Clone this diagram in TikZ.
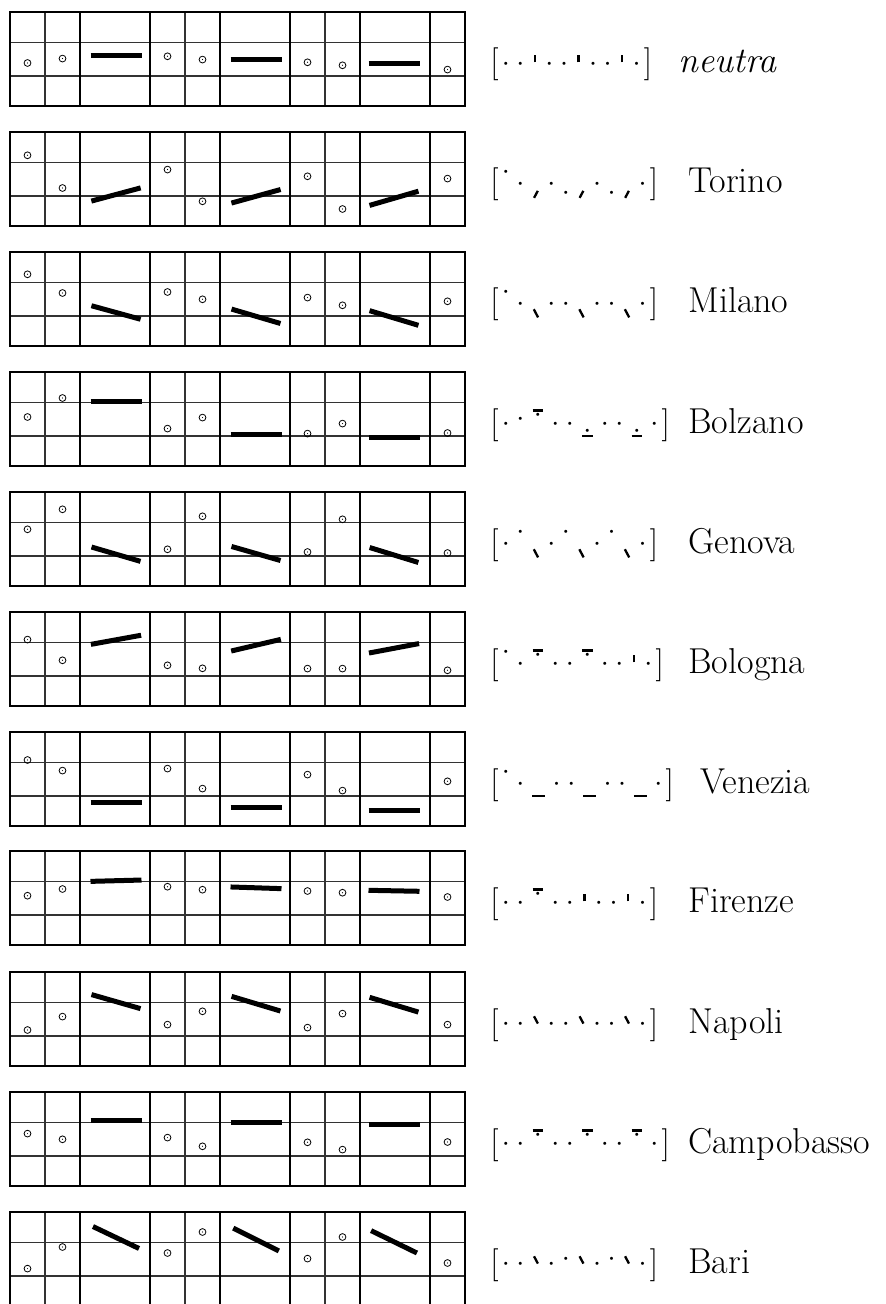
\documentclass[tikz,border=0pt]{standalone}
\usepackage{fontspec}
\usepackage{graphicx}

% syllables in the bracket transcription: dots at four heights
\newcommand{\tdot}[1]{\raisebox{#1}{\scalebox{0.42}{\textbullet}}}
\newcommand{\sylM}{\makebox[0.44em]{\tdot{0.18em}}}
\newcommand{\sylR}{\makebox[0.44em]{\tdot{0.31em}}}
\newcommand{\sylH}{\makebox[0.44em]{\tdot{0.54em}}}
\newcommand{\sylL}{\makebox[0.44em]{\tdot{-0.12em}}}
% stress marks
\newcommand{\accT}{\makebox[0.44em]{\rule[0.32em]{0.07em}{0.23em}}}
\newcommand{\accS}{\makebox[0.5em]{\raisebox{-0.13em}{\rotatebox{-28}{\rule{0.07em}{0.24em}}}}}
\newcommand{\accB}{\makebox[0.5em]{\raisebox{-0.15em}{\rotatebox{28}{\rule{0.07em}{0.28em}}}}}
\newcommand{\accG}{\makebox[0.5em]{\raisebox{0.27em}{\rotatebox{28}{\rule{0.07em}{0.25em}}}}}
\newcommand{\accO}{\makebox[0.62em]{\makebox[0.32em]{\rlap{\rule[0.65em]{0.32em}{0.065em}}\hfill\tdot{0.45em}\hfill}}}
\newcommand{\accU}{\makebox[0.62em]{\makebox[0.32em]{\rlap{\rule[-0.12em]{0.32em}{0.065em}}\hfill\tdot{-0.05em}\hfill}}}
\newcommand{\accW}{\makebox[0.66em]{\rule[-0.12em]{0.38em}{0.065em}}}

% one staff: three bands, columns 1 1 2 1 1 2 1 1 2 1
\newcommand{\staffgrid}{%
  \draw[gridline] (10,30.5) -- (465,30.5) (10,64) -- (465,64);
  \foreach \x in {45,185,325} \draw[gridline] (\x,0) -- (\x,94);
  \foreach \x in {80,150,220,290,360,430} \draw[staffframe] (\x,0) -- (\x,94);
  \draw[staffframe] (10,0) rectangle (465,94);
}
% unstressed syllables (7 heights)
\newcommand{\syls}[1]{%
  \foreach \y [count=\i from 0] in {#1} {
    \pgfmathsetmacro{\cx}{{27.5,62.5,167.5,202.5,307.5,342.5,447.5}[\i]}
    \draw[syl] (\cx,\y) circle (1.7pt);
    \fill (\cx,\y) circle (0.3pt);
  }}
% stressed syllables (height/angle)
\newcommand{\accs}[1]{%
  \foreach \y/\a [count=\i from 0] in {#1} {
    \pgfmathsetmacro{\cx}{{116,256,394}[\i]}
    \draw[accbar] (\cx,\y) ++(180+\a:25.5) -- ++(\a:51);
  }}

\begin{document}
\begin{tikzpicture}[
    x=0.5pt, y=-0.5pt,
    every node/.style={inner sep=0pt},
    staffframe/.style={line width=1.4pt, line cap=rect},
    gridline/.style={line width=0.65pt, black!80},
    syl/.style={line width=0.4pt},
    accbar/.style={line width=2.5pt},
    trans/.style={anchor=base west, font=\fontsize{16.5}{20}\selectfont},
    city/.style={anchor=base west, font=\fontsize{18}{22}\selectfont},
]
\useasboundingbox (0,0) rectangle (885,1304);

% neutra
\begin{scope}[shift={(0,12)}]
\staffgrid
\syls{51, 46.6, 44.3, 47.6, 50.3, 53.3, 57.6}
\accs{43.3/0, 47.6/0, 52/0}
\node[trans] (tr1) at (490,61) {[\sylM\sylM\accT\sylM\sylM\accT\sylM\sylM\accT\sylM]};
\node[city] (nm1) at (678,61) {\textit{neutra}};
\end{scope}

% Torino
\begin{scope}[shift={(0,132)}]
\staffgrid
\syls{23.3, 56, 37.6, 69.3, 44.3, 77, 46.6}
\accs{62.5/-15, 64.3/-15.4, 66.3/-16.2}
\node[trans] (tr2) at (490,61) {[\sylH\sylM\accS\sylM\sylL\accS\sylM\sylL\accS\sylM]};
\node[city] (nm2) at (688,61) {Torino};
\end{scope}

% Milano
\begin{scope}[shift={(0,252)}]
\staffgrid
\syls{22.3, 41, 40, 47.3, 45.6, 53.3, 49.3}
\accs{60.5/15.4, 64.3/16.4, 66/16.7}
\node[trans] (tr3) at (490,61) {[\sylH\sylM\accB\sylM\sylM\accB\sylM\sylM\accB\sylM]};
\node[city] (nm3) at (688,61) {Milano};
\end{scope}

% Bolzano
\begin{scope}[shift={(0,372)}]
\staffgrid
\syls{45, 26, 56.6, 45.6, 61.6, 51.6, 61}
\accs{29.3/0, 62.3/0, 65/0}
\node[trans] (tr4) at (490,61) {[\sylM\sylR\accO\sylM\sylM\accU\sylM\sylM\accU\sylM]};
\node[city] (nm4) at (688,61) {Bolzano};
\end{scope}

% Genova
\begin{scope}[shift={(0,492)}]
\staffgrid
\syls{37.3, 17.3, 57.3, 24.3, 60, 27.3, 61}
\accs{62.2/16.3, 61.5/16, 63/17.1}
\node[trans] (tr5) at (490,61) {[\sylM\sylH\accB\sylM\sylH\accB\sylM\sylH\accB\sylM]};
\node[city] (nm5) at (688,61) {Genova};
\end{scope}

% Bologna
\begin{scope}[shift={(0,612)}]
\staffgrid
\syls{27.6, 48.3, 53.3, 56.3, 56.6, 56.6, 58.3}
\accs{27.8/-10.3, 33.2/-13.2, 36.3/-10.7}
\node[trans] (tr6) at (490,61) {[\sylH\sylM\accO\sylM\sylM\accO\sylM\sylM\accT\sylM]};
\node[city] (nm6) at (688,61) {Bologna};
\end{scope}

% Venezia
\begin{scope}[shift={(0,732)}]
\staffgrid
\syls{28, 38.6, 36.6, 56.6, 42.6, 58.6, 49.3}
\accs{70.6/0, 75/0, 78.6/0}
\node[trans] (tr7) at (490,61) {[\sylH\sylM\accW\sylM\sylM\accW\sylM\sylM\accW\sylM]};
\node[city] (nm7) at (700,61) {Venezia};
\end{scope}

% Firenze
\begin{scope}[shift={(0,851)}]
\staffgrid
\syls{44.7, 38, 35.7, 38.7, 40, 41.7, 46}
\accs{29.7/-1.5, 36.8/1.9, 39.8/1.1}
\node[trans] (tr8) at (490,61) {[\sylM\sylM\accO\sylM\sylM\accT\sylM\sylM\accT\sylM]};
\node[city] (nm8) at (688,61) {Firenze};
\end{scope}

% Napoli
\begin{scope}[shift={(0,972)}]
\staffgrid
\syls{58, 44.6, 52.6, 39.3, 55.6, 41.6, 52.6}
\accs{29.6/16, 31.7/16.7, 32.7/16.8}
\node[trans] (tr9) at (490,61) {[\sylM\sylM\accG\sylM\sylM\accG\sylM\sylM\accG\sylM]};
\node[city] (nm9) at (688,61) {Napoli};
\end{scope}

% Campobasso
\begin{scope}[shift={(0,1092)}]
\staffgrid
\syls{41.6, 47.3, 45.6, 54.3, 50.3, 57.6, 50}
\accs{28.3/0, 30.6/0, 32.6/0}
\node[trans] (tr10) at (490,61) {[\sylM\sylM\accO\sylM\sylM\accO\sylM\sylM\accO\sylM]};
\node[city] (nm10) at (688,61) {Campobasso};
\end{scope}

% Bari
\begin{scope}[shift={(0,1212)}]
\staffgrid
\syls{56.6, 35, 41, 20, 46.6, 25, 51}
\accs{25.5/25.5, 27.5/26.6, 29.8/26}
\node[trans] (tr11) at (490,61) {[\sylM\sylM\accG\sylM\sylR\accG\sylM\sylR\accG\sylM]};
\node[city] (nm11) at (688,61) {Bari};
\end{scope}

\end{tikzpicture}
\end{document}
